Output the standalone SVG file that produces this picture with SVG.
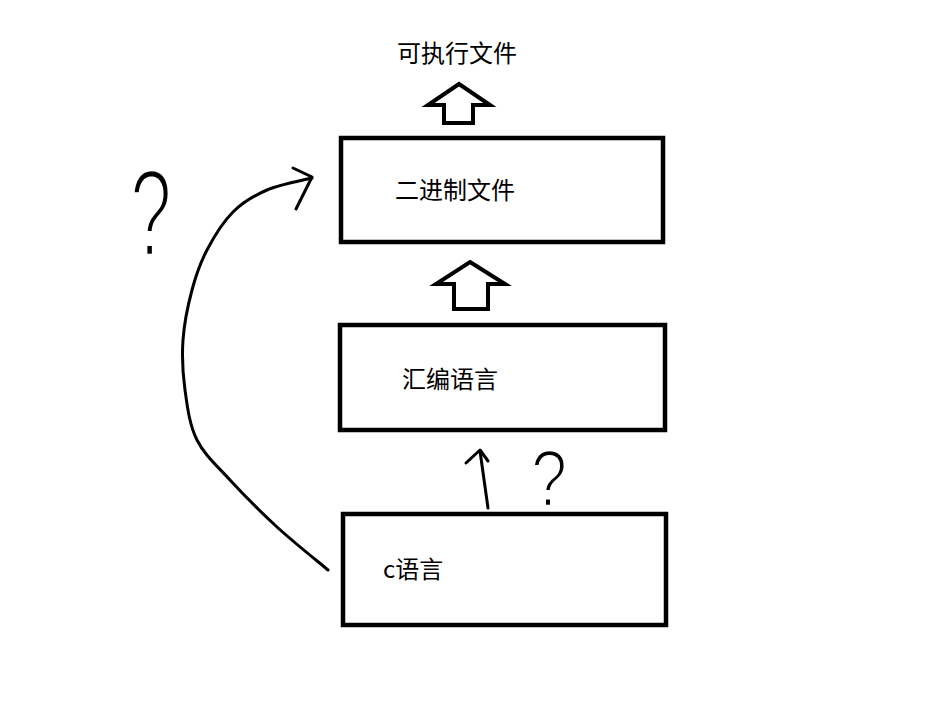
<svg xmlns="http://www.w3.org/2000/svg" width="934" height="707" viewBox="0 0 934 707">
<style>
.box{fill:#fff;stroke:#000;stroke-width:4.5}
.lbl{font-family:"Microsoft YaHei","Noto Sans CJK SC","Liberation Sans",sans-serif;font-size:24px;fill:#000}
.blk{fill:#fff;stroke:#000;stroke-width:4;stroke-linejoin:miter}
.hand{fill:none;stroke:#000;stroke-width:3;stroke-linecap:round;stroke-linejoin:round}
.q{font-family:"Liberation Sans",sans-serif;font-size:100px;fill:#000;stroke:#fff}
</style>
<rect width="934" height="707" fill="#fff"/>
<g id="exe">
<text class="lbl" x="397" y="62">可执行文件</text>
</g>
<g id="binary">
<rect class="box" x="341" y="138" width="322" height="104"/>
<text class="lbl" x="395" y="199">二进制文件</text>
</g>
<g id="asm">
<rect class="box" x="340" y="325" width="325" height="105"/>
<text class="lbl" x="402" y="388">汇编语言</text>
</g>
<g id="clang">
<rect class="box" x="343" y="514" width="323" height="111"/>
<text class="lbl" x="383" y="578">c语言</text>
</g>
<g id="connectors">
<polygon class="blk" points="459,84 490,105 473,105 473,123 444,123 444,105 428,105"/>
<polygon class="blk" points="470,262 505,284 488,284 488,309 454,309 454,284 436,284"/>
<path class="hand" d="M488,508 L480,451"/>
<polyline class="hand" points="466,463 480,450 488,461"/>
<path class="hand" d="M328,570 C319.5,562.8 293.3,542 277,527 C260.7,512 243.3,494.5 230,480 C216.7,465.5 204.5,455 197,440 C189.5,425 187.3,406.7 185,390 C182.7,373.3 181.8,356.7 183,340 C184.2,323.3 188,305 192,290 C196,275 200.2,263 207,250 C213.8,237 223,222 233,212 C243,202 253.8,195.7 267,190 C280.2,184.3 304.5,180 312,178"/>
<polyline class="hand" points="293,168 312,177 296,209"/>
</g>
<g id="q-left">
<text class="q" transform="translate(130,256) scale(0.75,1.25)" stroke-width="3.4">?</text>
</g>
<g id="q-right">
<text class="q" transform="translate(531,506) scale(0.65,0.8)" stroke-width="3.4">?</text>
</g>
</svg>
